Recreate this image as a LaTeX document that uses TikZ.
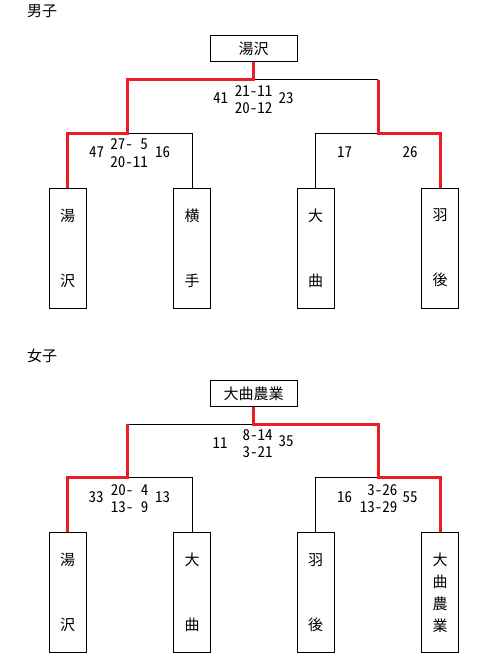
\documentclass[tikz,border=0pt]{standalone}
\usepackage{fontspec}
\setmainfont{Noto Sans CJK JP}
\newfontfamily\scorefont{Noto Sans CJK JP}[RawFeature=+hwid]
\usetikzlibrary{positioning}
\definecolor{winred}{HTML}{EE1C25}
\definecolor{ink}{HTML}{000000}

\begin{document}
\begin{tikzpicture}[x=1pt,y=-1pt,
    every node/.style={font=\fontsize{15}{15}\selectfont,inner sep=0pt},
    win/.style={winred,line width=3pt,line join=miter},
    lose/.style={ink,line width=1pt},
    champ/.style={draw=ink,line width=1pt,minimum width=87pt,minimum height=26pt},
    team/.style={draw=ink,line width=1pt,minimum width=37pt,minimum height=120pt,align=center},
    score/.style={font=\scorefont\fontsize{15}{17.5}\selectfont,align=right}]
  \useasboundingbox (0,0) rectangle (481,671);

  % boys
  \node[anchor=west] (boys) at (27,11) {男子};
  \node[champ] (bfinal) at (253.5,49) {湯沢};
  \node[team] (b1) at (67.5,248) {湯\\[50pt]沢};
  \node[team] (b2) at (192,248) {横\\[50pt]手};
  \node[team] (b3) at (315.5,248) {大\\[50pt]曲};
  \node[team] (b4) at (440,248) {羽\\[50pt]後};
  \coordinate (bf) at (253.5,80);
  \coordinate (bsL) at (127,134);
  \coordinate (bsR) at (378,134);
  \draw[lose] (bf) -- (bf -| bsR);
  \draw[lose] (bsL) -| (b2.north);
  \draw[lose] (bsR) -| (b3.north);
  \draw[win] (bfinal.south) -- (bf) -| (bsL) -| (b1.north);
  \draw[win] (bf -| bsR) -- (bsR) -| (b4.north);
  \node[score] (bfl) at (220.5,98.5) {41};
  \node[score] (bfm) at (253.5,99.5) {21-11\\20-12};
  \node[score] (bfr) at (286,98.5) {23};
  \node[score] (bsLl) at (96.5,152) {47};
  \node[score] (bsLm) at (129,153) {27-\enspace5\\20-11};
  \node[score] (bsLr) at (162.5,152) {16};
  \node[score] (bsRl) at (344.5,152.5) {17};
  \node[score] (bsRr) at (410,152.5) {26};

  % girls
  \node[anchor=west] (girls) at (27,355.5) {女子};
  \node[champ] (gfinal) at (253.5,393.5) {大曲農業};
  \node[team] (g1) at (67.5,592.5) {湯\\[50pt]沢};
  \node[team] (g2) at (192,592.5) {大\\[50pt]曲};
  \node[team] (g3) at (315.5,592.5) {羽\\[50pt]後};
  \node[team] (g4) at (440,592.5) {大\\[7pt]曲\\[7pt]農\\[7pt]業};
  \coordinate (gf) at (253.5,424);
  \coordinate (gsL) at (127,477);
  \coordinate (gsR) at (378,477);
  \draw[lose] (gf) -- (gf -| gsL);
  \draw[lose] (gsL) -| (g2.north);
  \draw[lose] (gsR) -| (g3.north);
  \draw[win] (gfinal.south) -- (gf) -| (gsR) -| (g4.north);
  \draw[win] (gf -| gsL) -- (gsL) -| (g1.north);
  \node[score] (gfl) at (220,443) {11};
  \node[score] (gfm) at (257.5,443.75) {8-14\\3-21};
  \node[score] (gfr) at (286,441.5) {35};
  \node[score] (gsLl) at (96,497) {33};
  \node[score] (gsLm) at (129.5,498.75) {20-\enspace4\\13-\enspace9};
  \node[score] (gsLr) at (162.5,497) {13};
  \node[score] (gsRl) at (344.5,497) {16};
  \node[score,anchor=east] (gsRm) at (397.5,498.75) {3-26\\13-29};
  \node[score] (gsRr) at (410,497) {55};
\end{tikzpicture}
\end{document}
